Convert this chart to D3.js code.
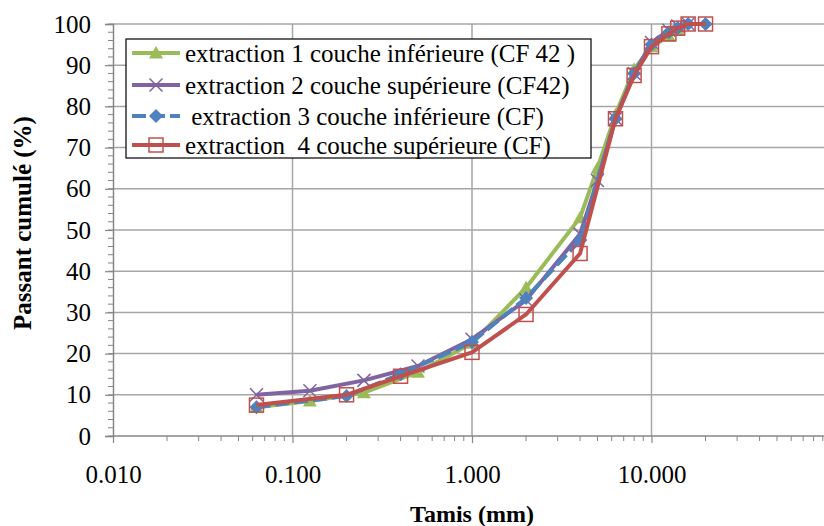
<!DOCTYPE html>
<html><head><meta charset="utf-8">
<script src="https://cdn.jsdelivr.net/npm/d3@7"></script>
<style>body{margin:0;background:#fff}svg{display:block}</style>
</head><body><svg id="c" width="824" height="526" font-family="Liberation Serif"></svg>
<script>
const seriesNames = ["extraction 1 couche inférieure (CF 42 )","extraction 2 couche supérieure (CF42)"," extraction 3 couche inférieure (CF)","extraction  4 couche supérieure (CF)"];
const sieves1 = [0.063,0.125,0.25,0.5,1,2,4,5,6.3,8,10,12.5,14];
const pass1   = [7,8.5,10.5,15.5,22.5,36,53,65,78,89,94.5,97,98.5];
const sieves2 = [0.063,0.125,0.25,0.5,1,2,4,5,6.3,8,10,12.5,14,16];
const pass2   = [10,11,13.5,17,23.5,33,49,62,77,88,95.5,98.5,99.5,100];
const sieves3 = [0.063,0.2,0.4,1,2,4,6.3,8,10,12.5,14,16,20];
const pass3   = [7,9.7,15,22.8,33.5,47.5,77,88,95,98,99,100,100];
const sieves4 = [0.063,0.2,0.4,1,2,4,6.3,8,10,12.5,14,16,20];
const pass4   = [7.5,10,14.5,20.3,29.5,44.3,77,87.5,94.5,97.6,99,100,100];
const xTickValues = [0.01,0.1,1,10];
const xTickLabels = ["0.010","0.100","1.000","10.000"];
const yTickValues = [0,10,20,30,40,50,60,70,80,90,100];
const colors = ["#9BBB59","#8064A2","#4F81BD","#C0504D"];
const markers = ["triangle","x","diamond","square"];
const FONT = "Liberation Serif";

const svg = d3.select("#c");
const x = d3.scaleLog().domain([0.01,100]).range([113,831]);
const y = d3.scaleLinear().domain([0,100]).range([436,24]);
const gridC = "#a6a6a6", axC = "#868686";

// grid
yTickValues.filter(v=>v>0).forEach(v=>{
  svg.append("line").attr("x1",113).attr("x2",824).attr("y1",y(v)).attr("y2",y(v)).attr("stroke",gridC).attr("stroke-width",1.5);
});
xTickValues.filter(v=>v>0.01).forEach(v=>{
  svg.append("line").attr("x1",x(v)).attr("x2",x(v)).attr("y1",24).attr("y2",436).attr("stroke",gridC).attr("stroke-width",1.5);
});
// minor x ticks
const minorX = [];
[0.01,0.1,1,10].forEach(d=>{for(let k=2;k<=9;k++){ if(x(d*k)<824) minorX.push(d*k);} });
minorX.forEach(v=>svg.append("line").attr("x1",x(v)).attr("x2",x(v)).attr("y1",436).attr("y2",441).attr("stroke",axC));
// minor y ticks
d3.range(0,101,2).forEach(v=>svg.append("line").attr("x1",108).attr("x2",113).attr("y1",y(v)).attr("y2",y(v)).attr("stroke",axC));
// axes
const xa = svg.append("g").attr("transform","translate(0,436)").call(d3.axisBottom(x).tickValues(xTickValues).tickFormat((d,i)=>xTickLabels[i]).tickSize(7).tickPadding(22));
const ya = svg.append("g").attr("transform","translate(113,0)").call(d3.axisLeft(y).tickValues(yTickValues).tickSize(8).tickPadding(14));
[xa,ya].forEach(g=>{g.attr("font-family",FONT).attr("font-size",25);g.select(".domain").attr("stroke",axC).attr("stroke-width",1.5);g.selectAll(".tick line").attr("stroke",axC).attr("stroke-width",1.2);g.selectAll("text").attr("font-family",FONT).attr("font-size",25).attr("fill","#000");});
xa.select(".domain").attr("d","M113,0H824");

// markers
function drawMarker(g, type, cx, cy, color){
  if(type==="triangle"){
    g.append("path").attr("d",`M${cx},${cy-7}L${cx+7},${cy+5.5}L${cx-7},${cy+5.5}Z`).attr("fill",color);
  } else if(type==="x"){
    g.append("path").attr("d",`M${cx-6.5},${cy-6.5}L${cx+6.5},${cy+6.5}M${cx-6.5},${cy+6.5}L${cx+6.5},${cy-6.5}`).attr("stroke",color).attr("stroke-width",1.5);
  } else if(type==="diamond"){
    g.append("path").attr("d",`M${cx},${cy-7}L${cx+7},${cy}L${cx},${cy+7}L${cx-7},${cy}Z`).attr("fill",color);
  } else {
    g.append("rect").attr("x",cx-7).attr("y",cy-7).attr("width",14).attr("height",14).attr("fill","none").attr("stroke",color).attr("stroke-width",1.5);
  }
}
const data = [[sieves1,pass1],[sieves2,pass2],[sieves3,pass3],[sieves4,pass4]];
const line = d3.line().x(d=>x(d[0])).y(d=>y(d[1]));
data.forEach(([sx,sy],i)=>{
  const pts = sx.map((v,j)=>[v,sy[j]]);
  const g = svg.append("g");
  g.append("path").attr("d",line(pts)).attr("fill","none").attr("stroke",colors[i]).attr("stroke-width",4).attr("stroke-linejoin","round")
    .attr("stroke-dasharray", i===2 ? "14,5" : null);
  pts.forEach(p=>drawMarker(g, markers[i], x(p[0]), y(p[1]), colors[i]));
});

// legend
const lg = svg.append("g");
lg.append("rect").attr("x",126).attr("y",39).attr("width",465).attr("height",119).attr("fill","#fff").attr("stroke","#000").attr("stroke-width",1.2);
const rowsY = [53,85,116,145];
seriesNames.forEach((n,i)=>{
  lg.append("line").attr("x1",132).attr("x2",180).attr("y1",rowsY[i]).attr("y2",rowsY[i]).attr("stroke",colors[i]).attr("stroke-width",4).attr("stroke-dasharray", i===2 ? "14,5" : null);
  drawMarker(lg, markers[i], 156, rowsY[i], colors[i]);
  lg.append("text").attr("x",185).attr("y",rowsY[i]+9).attr("font-family",FONT).attr("font-size",25).style("white-space","pre").text(n);
});

// axis titles
svg.append("text").attr("x",472).attr("y",522).attr("text-anchor","middle").attr("font-family",FONT).attr("font-size",24).attr("font-weight","bold").text("Tamis (mm)");
svg.append("text").attr("transform","translate(31,223) rotate(-90)").attr("text-anchor","middle").attr("font-family",FONT).attr("font-size",25).attr("font-weight","bold").text("Passant cumulé (%)");
</script></body></html>
